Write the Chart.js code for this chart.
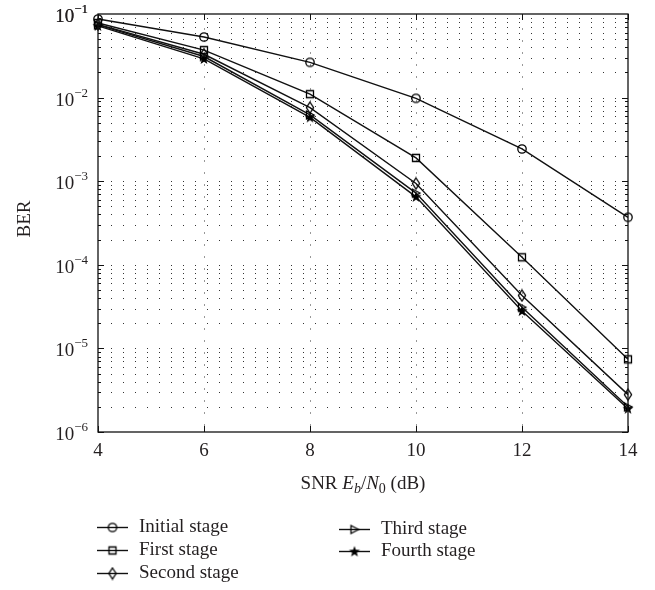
<!DOCTYPE html>
<html>
<head>
<meta charset="utf-8">
<script src="https://cdn.jsdelivr.net/npm/chart.js@4.4.0/dist/chart.umd.min.js"></script>
<style>
html, body { margin: 0; padding: 0; background: #fff; }
canvas { display: block; }
</style>
</head>
<body>
<canvas id="berChart" width="655" height="590"></canvas>
<script>
// values (BER vs SNR)
const snr = [4, 6, 8, 10, 12, 14];
const initialStage = [0.087, 0.053, 0.0264, 0.0098, 0.00243, 0.00037];
const firstStage = [0.078, 0.037, 0.011, 0.0019, 0.000123, 0.0000074];
const secondStage = [0.075, 0.033, 0.0076, 0.00094, 0.000043, 0.0000028];
const thirdStage = [0.074, 0.031, 0.0062, 0.00072, 0.000031, 0.000002];
const fourthStage = [0.072, 0.029, 0.0058, 0.00065, 0.000028, 0.0000019];
const seriesNames = ['Initial stage', 'First stage', 'Second stage', 'Third stage', 'Fourth stage'];
const xTicks = [4, 6, 8, 10, 12, 14];
const yExponents = [-6, -5, -4, -3, -2, -1];

const FONT = '"Liberation Serif", "DejaVu Serif", serif';
const INK = '#111';

function markerCanvas(kind) {
    const c = document.createElement('canvas');
    c.width = 14;
    c.height = 14;
    const g = c.getContext('2d');
    g.strokeStyle = '#000';
    g.fillStyle = '#000';
    g.lineWidth = 1.3;
    g.beginPath();
    if (kind === 'circle') {
        g.arc(7, 7, 4.2, 0, Math.PI * 2);
        g.stroke();
    } else if (kind === 'square') {
        g.rect(3.5, 3.5, 7, 7);
        g.stroke();
    } else if (kind === 'diamond') {
        g.moveTo(7, 1.5);
        g.lineTo(10.6, 7);
        g.lineTo(7, 12.5);
        g.lineTo(3.4, 7);
        g.closePath();
        g.stroke();
    } else if (kind === 'triangle') {
        g.moveTo(3.5, 3);
        g.lineTo(11, 7);
        g.lineTo(3.5, 11);
        g.closePath();
        g.stroke();
    } else {
        for (let i = 0; i < 10; i++) {
            const r = i % 2 === 0 ? 5.8 : 2.4;
            const a = -Math.PI / 2 + i * Math.PI / 5;
            const px = 7 + r * Math.cos(a);
            const py = 7.3 + r * Math.sin(a);
            if (i === 0) g.moveTo(px, py); else g.lineTo(px, py);
        }
        g.closePath();
        g.fill();
    }
    return c;
}

const markers = ['circle', 'square', 'diamond', 'triangle', 'star'].map(markerCanvas);
const values = [initialStage, firstStage, secondStage, thirdStage, fourthStage];

const datasets = values.map((v, i) => ({
    label: seriesNames[i],
    data: v.map((y, j) => ({x: snr[j], y: y})),
    borderColor: INK,
    borderWidth: 1.4,
    pointStyle: markers[i],
    pointRadius: 5,
    clip: false,
    tension: 0
}));

function dotsH(ctx, x0, x1, y, step) {
    for (let x = x0; x <= x1; x += step)
        ctx.fillRect(Math.round(x), Math.round(y), 1, 1);
}

function dotsV(ctx, x, y0, y1, step) {
    for (let y = y0; y <= y1; y += step)
        ctx.fillRect(Math.round(x), Math.round(y), 1, 2);
}

function powLabel(ctx, exp, xRight, yMid) {
    const sup = '\u2212' + Math.abs(exp);
    ctx.font = '13px ' + FONT;
    const supW = ctx.measureText(sup).width;
    ctx.font = '19px ' + FONT;
    const baseW = ctx.measureText('10').width;
    ctx.textAlign = 'left';
    ctx.textBaseline = 'alphabetic';
    ctx.fillText('10', xRight - supW - baseW, yMid + 8);
    ctx.font = '13px ' + FONT;
    ctx.fillText(sup, xRight - supW, yMid - 1);
}

function runs(ctx, parts, cx, y) {
    let total = 0;
    parts.forEach(p => { ctx.font = p.f; total += ctx.measureText(p.t).width; });
    let x = cx - total / 2;
    ctx.textAlign = 'left';
    ctx.textBaseline = 'alphabetic';
    parts.forEach(p => {
        ctx.font = p.f;
        ctx.fillText(p.t, x, y + (p.dy || 0));
        x += ctx.measureText(p.t).width;
    });
}

const berDecor = {
    id: 'berDecor',
    beforeDatasetsDraw(chart) {
        const {ctx, chartArea: a, scales: {x, y}} = chart;
        ctx.save();
        // horizontal dotted grid at every decade sub-tick
        ctx.fillStyle = '#333';
        yExponents.forEach(e => {
            for (let m = 1; m <= 9; m++) {
                const v = m * Math.pow(10, e - 1);
                if (v < 1e-6 * 0.999 || v > 0.1 * 1.001) continue;
                const py = y.getPixelForValue(v);
                if (py <= a.top + 1 || py >= a.bottom - 1) continue;
                dotsH(ctx, a.left + 1, a.right - 1, py, 12);
            }
        });
        // vertical dotted grid at major x ticks
        ctx.fillStyle = '#999';
        xTicks.slice(1, -1).forEach(t => {
            dotsV(ctx, x.getPixelForValue(t), a.top + 2, a.bottom - 2, 12);
        });
        ctx.restore();
    },
    afterDraw(chart) {
        const {ctx, chartArea: a, scales: {x, y}} = chart;
        ctx.save();
        ctx.strokeStyle = INK;
        ctx.fillStyle = '#231f20';
        ctx.lineWidth = 1.3;
        ctx.strokeRect(a.left, a.top, a.right - a.left, a.bottom - a.top);

        // y ticks, both sides, inward
        ctx.lineWidth = 1;
        ctx.beginPath();
        yExponents.forEach(e => {
            for (let m = 1; m <= 9; m++) {
                const v = m * Math.pow(10, e - 1);
                if (v < 1e-6 * 0.999 || v > 0.1 * 1.001) continue;
                const py = Math.round(y.getPixelForValue(v)) + 0.5;
                const len = m === 1 ? 6 : 3;
                ctx.moveTo(a.left, py); ctx.lineTo(a.left + len, py);
                ctx.moveTo(a.right, py); ctx.lineTo(a.right - len, py);
            }
        });
        xTicks.forEach(t => {
            const px = Math.round(x.getPixelForValue(t)) + 0.5;
            ctx.moveTo(px, a.bottom); ctx.lineTo(px, a.bottom - 6);
            ctx.moveTo(px, a.top); ctx.lineTo(px, a.top + 6);
        });
        ctx.stroke();

        // y tick labels
        powLabel(ctx, -1, a.left - 10, y.getPixelForValue(0.1));
        yExponents.forEach(e => {
            powLabel(ctx, e, a.left - 10, y.getPixelForValue(Math.pow(10, e)));
        });

        // x tick labels
        ctx.font = '19px ' + FONT;
        ctx.textAlign = 'center';
        ctx.textBaseline = 'middle';
        xTicks.forEach(t => ctx.fillText(String(t), x.getPixelForValue(t), a.bottom + 19));

        // axis titles
        const cx = (a.left + a.right) / 2;
        runs(ctx, [
            {t: 'SNR ', f: '19px ' + FONT},
            {t: 'E', f: 'italic 19px ' + FONT},
            {t: 'b', f: 'italic 14px ' + FONT, dy: 4},
            {t: '/', f: '19px ' + FONT},
            {t: 'N', f: 'italic 19px ' + FONT},
            {t: '0', f: '14px ' + FONT, dy: 4},
            {t: ' (dB)', f: '19px ' + FONT}
        ], cx, a.bottom + 57);

        ctx.save();
        ctx.translate(25, (a.top + a.bottom) / 2 - 4);
        ctx.rotate(-Math.PI / 2);
        ctx.font = '19px ' + FONT;
        ctx.textAlign = 'center';
        ctx.textBaseline = 'middle';
        ctx.fillText('BER', 0, 0);
        ctx.restore();

        // legend in two columns
        const slots = [[97, 527], [97, 550], [97, 573], [339, 529], [339, 551]];
        ctx.font = '19px ' + FONT;
        ctx.textAlign = 'left';
        ctx.textBaseline = 'middle';
        ctx.lineWidth = 1.4;
        seriesNames.forEach((name, i) => {
            const [lx, ly] = slots[i];
            ctx.beginPath();
            ctx.moveTo(lx, ly + 0.5);
            ctx.lineTo(lx + 31, ly + 0.5);
            ctx.stroke();
            ctx.drawImage(markers[i], lx + 15.5 - 7, ly - 6.5);
            ctx.fillText(name, lx + 42, ly);
        });
        ctx.restore();
    }
};

new Chart(document.getElementById('berChart'), {
    type: 'line',
    data: {datasets: datasets},
    options: {
        responsive: false,
        animation: false,
        layout: {padding: {left: 98, right: 27, top: 14, bottom: 158}},
        plugins: {legend: {display: false}, tooltip: {enabled: false}},
        scales: {
            x: {type: 'linear', min: 4, max: 14, display: false},
            y: {type: 'logarithmic', min: 1e-6, max: 1e-1, display: false}
        }
    },
    plugins: [berDecor]
});
</script>
</body>
</html>
